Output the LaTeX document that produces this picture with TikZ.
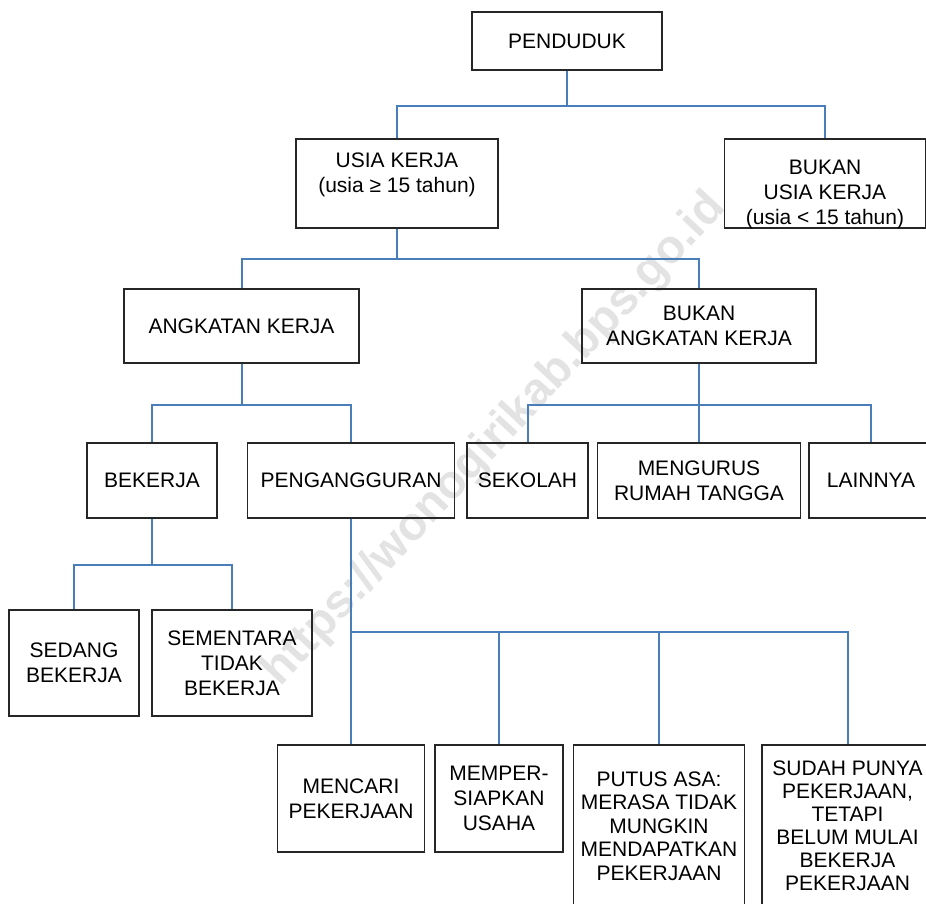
\documentclass[tikz,border=0pt]{standalone}
\usepackage{fontspec}
\setmainfont{Liberation Sans}
\usepackage{tikz}
\definecolor{garisbiru}{RGB}{74,126,187}

\begin{document}
\begin{tikzpicture}[x=1pt,y=-1pt,
  kotak/.style={draw=black!85, line width=1.2pt, align=center, inner sep=0pt, font=\fontsize{21}{25}\selectfont},
  garis/.style={draw=garisbiru, line width=2pt}]
\useasboundingbox (0,0) rectangle (926,903);
\node[rotate=47, text=black!11, font=\fontsize{47}{47}\selectfont\bfseries] (wm) at (495,440) {https://wonogirikab.bps.go.id};
\node[kotak, minimum width=190, minimum height=58] (pend) at (567,41) {PENDUDUK};
\node[kotak, minimum width=202, minimum height=89] (usia) at (397,183.5) {USIA KERJA\\(usia ≥ 15 tahun)\\[-4pt]};
\node[kotak, minimum width=201, minimum height=89] (bukanusia) at (825,183.5) {BUKAN\\USIA KERJA\\(usia < 15 tahun)\\[-43pt]};
\node[kotak, minimum width=235, minimum height=74] (ak) at (241.5,326) {ANGKATAN KERJA};
\node[kotak, minimum width=234, minimum height=74] (bak) at (699,326) {BUKAN\\ANGKATAN KERJA};
\node[kotak, minimum width=130, minimum height=75] (bekerja) at (152,480.5) {BEKERJA};
\node[kotak, minimum width=207, minimum height=75] (peng) at (351,480.5) {PENGANGGURAN};
\node[kotak, minimum width=121, minimum height=75] (sekolah) at (527.5,480.5) {SEKOLAH};
\node[kotak, minimum width=203, minimum height=75] (mrt) at (699,480.5) {MENGURUS\\RUMAH TANGGA};
\node[kotak, minimum width=124, minimum height=75] (lain) at (871,480.5) {LAINNYA};
\node[kotak, minimum width=130, minimum height=106] (sedang) at (74,663) {SEDANG\\BEKERJA};
\node[kotak, minimum width=160, minimum height=106] (sementara) at (232,663) {SEMENTARA\\TIDAK\\BEKERJA};
\node[kotak, minimum width=147, minimum height=107] (mencari) at (351,798.5) {MENCARI\\PEKERJAAN};
\node[kotak, minimum width=128, minimum height=107] (memper) at (499,798.5) {MEMPER-\\SIAPKAN\\USAHA};
\node[kotak, minimum width=171, minimum height=162, font=\fontsize{21}{23.5}\selectfont] (putus) at (659,826) {PUTUS ASA:\\MERASA TIDAK\\MUNGKIN\\MENDAPATKAN\\PEKERJAAN};
\node[kotak, minimum width=171, minimum height=162, font=\fontsize{21}{23}\selectfont] (sudah) at (847.5,826) {SUDAH PUNYA\\PEKERJAAN,\\TETAPI\\BELUM MULAI\\BEKERJA\\PEKERJAAN};
\draw[garis] (pend.south) -- ++(0,35) coordinate (j1);
\draw[garis] (usia.north) |- (j1) -| (bukanusia.north);
\draw[garis] (usia.south) -- ++(0,30) coordinate (j2);
\draw[garis] (ak.north) |- (j2) -| (bak.north);
\draw[garis] (ak.south) -- ++(0,41) coordinate (j3);
\draw[garis] (bekerja.north) |- (j3) -| (peng.north);
\draw[garis] (bak.south) -- (mrt.north);
\draw[garis] (sekolah.north) |- (j3 -| bak.south) -| (lain.north);
\draw[garis] (bekerja.south) -- ++(0,46) coordinate (j4);
\draw[garis] (sedang.north) |- (j4) -| (sementara.north);
\draw[garis] (peng.south) -- (mencari.north);
\draw[garis] (peng.south |- 0,632) coordinate (j5) -| (sudah.north);
\draw[garis] (j5 -| memper.north) -- (memper.north);
\draw[garis] (j5 -| putus.north) -- (putus.north);
\end{tikzpicture}
\end{document}
